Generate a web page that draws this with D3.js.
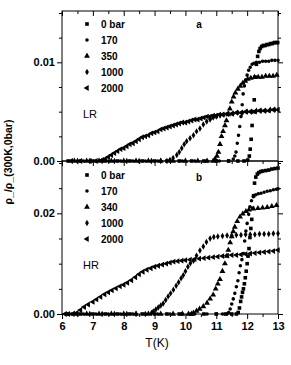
<!DOCTYPE html>
<html>
<head>
<meta charset="utf-8">
<script src="https://cdn.jsdelivr.net/npm/d3@7"></script>
<style>
  body { margin: 0; background: #fff; }
  svg text { font-family: "Liberation Sans", Arial, sans-serif; fill: #000; }
</style>
</head>
<body>
<svg class="chart" width="291" height="365"></svg>
<script>
// temperatures (K) and resistivity ratio
const lr0 = [[6.2,0],[6.6,0],[7.0,0],[7.4,0],[7.8,0],[8.2,0],[8.6,0],[9.0,0],[9.4,0],[9.8,0],[10.2,0],[10.6,0],[11.0,0],[11.4,0],[11.7,0],[11.9,0],[12.02,0.0001],[12.07,0.0005],[12.1,0.0012],[12.13,0.0022],[12.16,0.0036],[12.2,0.005],[12.23,0.0062],[12.26,0.0085],[12.3,0.0098],[12.34,0.0106],[12.38,0.0111],[12.42,0.0114],[12.47,0.0116],[12.52,0.0117],[12.58,0.0117],[12.64,0.0118],[12.7,0.0118],[12.76,0.0119],[12.82,0.0119],[12.88,0.012],[12.94,0.012],[12.99,0.012]];
const lr170 = [[6.3,0],[6.7,0],[7.1,0],[7.5,0],[7.9,0],[8.3,0],[8.7,0],[9.1,0],[9.5,0],[9.9,0],[10.3,0],[10.7,0],[11.1,0],[11.4,0],[11.55,0.0002],[11.6,0.0005],[11.64,0.0009],[11.68,0.0018],[11.72,0.0026],[11.76,0.0035],[11.8,0.0045],[11.84,0.0057],[11.87,0.0068],[11.91,0.0076],[11.95,0.0082],[12.0,0.0087],[12.05,0.0092],[12.1,0.0095],[12.16,0.0098],[12.22,0.0099],[12.3,0.01],[12.4,0.01],[12.5,0.0101],[12.6,0.0101],[12.7,0.0101],[12.8,0.0102],[12.9,0.0102],[13.0,0.0102]];
const lr350 = [[6.4,0],[6.8,0],[7.2,0],[7.6,0],[8.0,0],[8.4,0],[8.8,0],[9.2,0],[9.6,0],[10.0,0],[10.4,0],[10.7,0],[10.9,0],[10.96,0.0002],[11.02,0.0005],[11.07,0.0009],[11.12,0.0017],[11.17,0.0025],[11.22,0.003],[11.28,0.0036],[11.33,0.0041],[11.39,0.0047],[11.44,0.0053],[11.5,0.006],[11.56,0.0065],[11.62,0.0069],[11.7,0.0073],[11.78,0.0076],[11.86,0.0079],[11.94,0.0081],[12.02,0.0083],[12.12,0.0084],[12.24,0.0085],[12.36,0.0085],[12.48,0.0085],[12.6,0.0086],[12.72,0.0086],[12.84,0.0086],[12.96,0.0087]];
const lr1000 = [[6.5,0],[6.9,0],[7.3,0],[7.7,0],[8.1,0],[8.5,0],[8.9,0],[9.2,0],[9.4,0],[9.5,0.0001],[9.6,0.0003],[9.72,0.0006],[9.8,0.0009],[9.88,0.0013],[9.96,0.0017],[10.04,0.002],[10.15,0.0023],[10.26,0.0026],[10.36,0.003],[10.47,0.0033],[10.58,0.0037],[10.69,0.004],[10.8,0.0042],[10.9,0.0044],[11.0,0.0045],[11.12,0.0046],[11.25,0.0047],[11.4,0.0048],[11.55,0.0048],[11.7,0.0049],[11.85,0.0049],[12.0,0.005],[12.15,0.005],[12.3,0.0051],[12.45,0.0051],[12.6,0.0051],[12.75,0.0052],[12.9,0.0052]];
const lr2000 = [[6.3,0],[6.6,0],[6.9,0],[7.1,0],[7.3,0.0001],[7.4,0.0002],[7.5,0.0004],[7.6,0.0006],[7.7,0.0008],[7.8,0.001],[7.9,0.0012],[8.0,0.0013],[8.1,0.0015],[8.2,0.0017],[8.3,0.0018],[8.4,0.002],[8.5,0.0022],[8.6,0.0024],[8.7,0.0025],[8.8,0.0026],[8.9,0.0028],[9.0,0.0029],[9.1,0.003],[9.2,0.0032],[9.3,0.0033],[9.4,0.0034],[9.5,0.0035],[9.6,0.0036],[9.7,0.0037],[9.8,0.0038],[9.9,0.0039],[10.0,0.0039],[10.1,0.004],[10.2,0.0041],[10.3,0.0042],[10.4,0.0042],[10.5,0.0043],[10.6,0.0044],[10.7,0.0045],[10.8,0.0045],[10.9,0.0046],[11.0,0.0046],[11.1,0.0047],[11.2,0.0047],[11.35,0.0048],[11.5,0.0048],[11.65,0.0049],[11.8,0.0049],[11.95,0.005],[12.1,0.005],[12.25,0.005],[12.4,0.0051],[12.55,0.0051],[12.7,0.0051],[12.85,0.0052],[13.0,0.0052]];

const hr0 = [[6.2,0],[6.6,0],[7.0,0],[7.4,0],[7.8,0],[8.2,0],[8.6,0],[9.0,0],[9.4,0],[9.8,0],[10.2,0],[10.6,0],[11.0,0],[11.3,0],[11.5,0],[11.65,0],[11.71,0.0003],[11.75,0.0012],[11.79,0.0025],[11.82,0.0034],[11.85,0.0043],[11.88,0.005],[11.91,0.006],[11.94,0.0072],[11.97,0.0085],[12.0,0.01],[12.03,0.0115],[12.06,0.013],[12.09,0.0152],[12.12,0.017],[12.15,0.0188],[12.18,0.021],[12.21,0.0235],[12.24,0.026],[12.28,0.0272],[12.33,0.0278],[12.38,0.0281],[12.44,0.0283],[12.5,0.0284],[12.6,0.0285],[12.7,0.0286],[12.8,0.0288],[12.9,0.0289],[13.0,0.029]];
const hr170 = [[6.3,0],[6.7,0],[7.1,0],[7.5,0],[7.9,0],[8.3,0],[8.7,0],[9.1,0],[9.5,0],[9.9,0],[10.3,0],[10.7,0],[11.0,0],[11.2,0],[11.35,0],[11.4,0.0003],[11.45,0.001],[11.5,0.002],[11.55,0.003],[11.6,0.0041],[11.65,0.0054],[11.7,0.0066],[11.74,0.0082],[11.78,0.0096],[11.83,0.0108],[11.88,0.012],[11.92,0.0145],[11.96,0.0165],[12.0,0.018],[12.05,0.0198],[12.09,0.0213],[12.14,0.0225],[12.2,0.0233],[12.28,0.0237],[12.36,0.0239],[12.45,0.024],[12.55,0.0242],[12.65,0.0244],[12.75,0.0245],[12.85,0.0247],[12.95,0.0248],[13.0,0.0249]];
const hr340 = [[6.4,0],[6.8,0],[7.2,0],[7.6,0],[8.0,0],[8.4,0],[8.8,0],[9.2,0],[9.6,0],[9.9,0],[10.1,0],[10.2,0],[10.26,0.0002],[10.36,0.0006],[10.46,0.001],[10.58,0.0015],[10.7,0.0022],[10.8,0.003],[10.9,0.0038],[10.98,0.005],[11.05,0.006],[11.12,0.0069],[11.2,0.0085],[11.28,0.01],[11.34,0.0115],[11.39,0.0127],[11.45,0.0142],[11.5,0.0154],[11.55,0.0164],[11.6,0.0173],[11.68,0.0184],[11.77,0.0193],[11.86,0.0199],[11.96,0.0204],[12.06,0.0207],[12.2,0.0209],[12.35,0.021],[12.5,0.0211],[12.65,0.0212],[12.8,0.0214],[12.95,0.0216]];
const hr1000 = [[6.5,0],[6.9,0],[7.3,0],[7.7,0],[8.1,0],[8.4,0],[8.7,0],[8.9,0.0002],[8.96,0.0005],[9.04,0.0009],[9.12,0.0013],[9.2,0.0017],[9.28,0.0021],[9.36,0.0028],[9.44,0.0035],[9.52,0.0041],[9.61,0.0048],[9.7,0.0056],[9.78,0.0063],[9.86,0.0071],[9.93,0.0077],[10.0,0.0085],[10.08,0.0094],[10.16,0.0101],[10.26,0.0106],[10.36,0.0116],[10.47,0.0126],[10.58,0.0134],[10.68,0.0143],[10.8,0.015],[10.92,0.0153],[11.05,0.0154],[11.2,0.0155],[11.35,0.0156],[11.5,0.0156],[11.65,0.0157],[11.8,0.0157],[11.95,0.0158],[12.1,0.0158],[12.25,0.0158],[12.4,0.0159],[12.55,0.0159],[12.7,0.0159],[12.85,0.016],[13.0,0.016]];
const hr2000 = [[6.1,0],[6.2,0],[6.35,0],[6.48,0.0002],[6.6,0.0008],[6.72,0.0014],[6.85,0.0019],[7.0,0.0024],[7.12,0.0029],[7.25,0.0034],[7.38,0.0039],[7.5,0.0043],[7.62,0.0047],[7.75,0.0051],[7.88,0.0055],[8.0,0.0058],[8.12,0.0062],[8.25,0.0067],[8.38,0.0073],[8.5,0.0079],[8.62,0.0084],[8.75,0.0088],[8.88,0.0091],[9.0,0.0094],[9.12,0.0096],[9.25,0.0098],[9.38,0.01],[9.5,0.0102],[9.62,0.0104],[9.75,0.0105],[9.88,0.0106],[10.0,0.0107],[10.15,0.0108],[10.3,0.0109],[10.45,0.011],[10.6,0.0111],[10.75,0.0112],[10.9,0.0113],[11.05,0.0114],[11.2,0.0115],[11.35,0.0116],[11.5,0.0117],[11.65,0.0117],[11.8,0.0118],[11.95,0.0119],[12.1,0.012],[12.25,0.0121],[12.4,0.0122],[12.55,0.0123],[12.7,0.0124],[12.85,0.0125],[13.0,0.0127]];

const lrLabels = ["0 bar", "170", "350", "1000", "2000"];
const hrLabels = ["0 bar", "170", "340", "1000", "2000"];
const xTicks = [6, 7, 8, 9, 10, 11, 12, 13];

const svg = d3.select(".chart");
const left = 62, right = 278;

const x = d3.scaleLinear().domain([6, 13]).range([left, right]);
const yA = d3.scaleLinear().domain([0, 0.0152]).range([161, 11]);
const yB = d3.scaleLinear().domain([0, 0.0304]).range([314, 161]);

// marker shapes in legend order
const shapes = [
  { type: d3.symbolSquare, size: 13, rot: 0 },
  { type: d3.symbolCircle, size: 10, rot: 0 },
  { type: d3.symbolTriangle, size: 15, rot: 0 },
  { type: d3.symbolDiamond, size: 12, rot: 0 },
  { type: d3.symbolTriangle, size: 15, rot: -90 }
];

function panel(y, series, labels, yTicks, yMinor, legendTop, tag, letter, letterY, topTicks) {
  const g = svg.append("g");

  g.append("rect")
    .attr("x", left).attr("y", y.range()[1])
    .attr("width", right - left).attr("height", y.range()[0] - y.range()[1])
    .attr("fill", "none").attr("stroke", "#000").attr("stroke-width", 1);

  // left axis
  g.append("g")
    .attr("transform", `translate(${left},0)`)
    .call(d3.axisLeft(y).tickValues(yMinor).tickSize(3).tickFormat(""))
    .call((a) => a.select(".domain").remove());
  g.append("g")
    .attr("transform", `translate(${left},0)`)
    .call(d3.axisLeft(y).tickValues(yTicks).tickSize(5).tickPadding(2).tickFormat(d3.format(".2f")))
    .call((a) => a.select(".domain").remove())
    .selectAll("text").attr("font-size", 11).attr("font-weight", "bold");

  // right axis
  g.append("g")
    .attr("transform", `translate(${right},0)`)
    .call(d3.axisRight(y).tickValues(yMinor).tickSize(3).tickFormat(""))
    .call((a) => a.select(".domain").remove());
  g.append("g")
    .attr("transform", `translate(${right},0)`)
    .call(d3.axisRight(y).tickValues(yTicks).tickSize(5).tickFormat(""))
    .call((a) => a.select(".domain").remove());

  // bottom axis (ticks pointing down)
  const bottom = y.range()[0];
  g.append("g")
    .attr("transform", `translate(0,${bottom})`)
    .call(d3.axisBottom(x).tickValues(d3.range(6.5, 13, 1)).tickSize(3).tickFormat(""))
    .call((a) => a.select(".domain").remove());
  const bx = g.append("g")
    .attr("transform", `translate(0,${bottom})`)
    .call(d3.axisBottom(x).tickValues(xTicks).tickSize(5).tickPadding(3)
      .tickFormat(topTicks ? "" : d3.format("d")))
    .call((a) => a.select(".domain").remove());
  bx.selectAll("text").attr("font-size", 11).attr("font-weight", "bold");

  if (topTicks) {
    g.append("g")
      .attr("transform", `translate(0,${y.range()[1]})`)
      .call(d3.axisBottom(x).tickValues(d3.range(6.5, 13, 1)).tickSize(3).tickFormat(""))
      .call((a) => a.select(".domain").remove());
    g.append("g")
      .attr("transform", `translate(0,${y.range()[1]})`)
      .call(d3.axisBottom(x).tickValues(xTicks).tickSize(5).tickFormat(""))
      .call((a) => a.select(".domain").remove());
  }

  g.selectAll(".tick line").attr("stroke", "#000");

  // data
  series.forEach((data, i) => {
    const s = shapes[i];
    g.append("g")
      .selectAll("path")
      .data(data)
      .enter()
      .append("path")
      .attr("d", d3.symbol().type(s.type).size(s.size))
      .attr("transform", (d) => `translate(${x(d[0])},${y(d[1])}) rotate(${s.rot})`)
      .attr("fill", "#000");
  });

  // legend
  const lg = g.append("g");
  labels.forEach((lab, i) => {
    const s = shapes[i];
    const ly = legendTop + i * 16;
    lg.append("path")
      .attr("d", d3.symbol().type(s.type).size(s.size))
      .attr("transform", `translate(87,${ly}) rotate(${s.rot})`)
      .attr("fill", "#000");
    lg.append("text")
      .attr("x", 101).attr("y", ly + 4)
      .attr("font-size", 10).attr("font-weight", "bold")
      .text(lab);
  });
  lg.append("text")
    .attr("x", 83).attr("y", legendTop + 5 * 16 + 14)
    .attr("font-size", 11)
    .text(tag);

  g.append("text")
    .attr("x", 199).attr("y", letterY)
    .attr("font-size", 10).attr("font-weight", "bold")
    .attr("text-anchor", "middle")
    .text(letter);
}

panel(yA, [lr0, lr170, lr350, lr1000, lr2000], lrLabels,
  [0, 0.01], [0.0025, 0.005, 0.0075, 0.0125, 0.015], 24, "LR", "a", 28, true);
panel(yB, [hr0, hr170, hr340, hr1000, hr2000], hrLabels,
  [0, 0.02], [0.005, 0.01, 0.015, 0.025, 0.03], 175, "HR", "b", 181, false);

svg.append("text")
  .attr("transform", "translate(12,162) rotate(-90)")
  .attr("text-anchor", "middle")
  .attr("font-size", 10.5)
  .attr("font-weight", "bold")
  .text("ρ_/ρ_(300K,0bar)");

svg.append("text")
  .attr("x", 157).attr("y", 347)
  .attr("text-anchor", "middle")
  .attr("font-size", 12)
  .text("T(K)");
</script>
</body>
</html>
